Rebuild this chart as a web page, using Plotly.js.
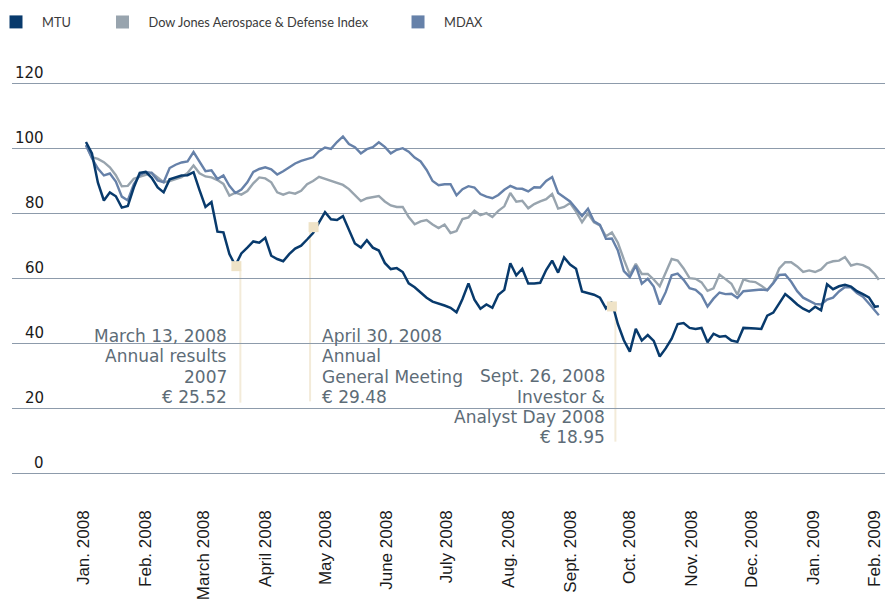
<!DOCTYPE html>
<html>
<head>
<meta charset="utf-8">
<script src="https://cdn.plot.ly/plotly-3.0.1.min.js"></script>
<style>html,body{margin:0;padding:0;background:#fff;}#chart{width:885px;height:609px;}</style>
</head>
<body>
<div id="chart"></div>
<script>
// ---- data ----
const dates = [
'2008-01-02','2008-01-05','2008-01-08','2008-01-11','2008-01-14','2008-01-17','2008-01-20','2008-01-23','2008-01-26','2008-01-29',
'2008-02-01','2008-02-04','2008-02-07','2008-02-10','2008-02-13','2008-02-16','2008-02-19','2008-02-22','2008-02-25','2008-02-28',
'2008-03-02','2008-03-05','2008-03-08','2008-03-11','2008-03-14','2008-03-17','2008-03-20','2008-03-23','2008-03-26','2008-03-29',
'2008-04-01','2008-04-04','2008-04-07','2008-04-10','2008-04-13','2008-04-16','2008-04-19','2008-04-22','2008-04-25','2008-04-28',
'2008-05-01','2008-05-04','2008-05-07','2008-05-10','2008-05-13','2008-05-16','2008-05-19','2008-05-22','2008-05-25','2008-05-28',
'2008-05-31','2008-06-03','2008-06-06','2008-06-09','2008-06-12','2008-06-15','2008-06-18','2008-06-21','2008-06-24','2008-06-27',
'2008-06-30','2008-07-03','2008-07-06','2008-07-09','2008-07-12','2008-07-15','2008-07-18','2008-07-21','2008-07-24','2008-07-27',
'2008-07-30','2008-08-02','2008-08-05','2008-08-08','2008-08-11','2008-08-14','2008-08-17','2008-08-20','2008-08-23','2008-08-26',
'2008-08-29','2008-09-01','2008-09-04','2008-09-07','2008-09-10','2008-09-13','2008-09-16','2008-09-19','2008-09-22','2008-09-25',
'2008-09-28','2008-10-01','2008-10-04','2008-10-07','2008-10-10','2008-10-13','2008-10-16','2008-10-19','2008-10-22','2008-10-25',
'2008-10-28','2008-10-31','2008-11-03','2008-11-06','2008-11-09','2008-11-12','2008-11-15','2008-11-18','2008-11-21','2008-11-24',
'2008-11-27','2008-11-30','2008-12-03','2008-12-06','2008-12-09','2008-12-12','2008-12-15','2008-12-18','2008-12-21','2008-12-24',
'2008-12-27','2008-12-30','2009-01-02','2009-01-05','2009-01-08','2009-01-11','2009-01-14','2009-01-17','2009-01-20','2009-01-23',
'2009-01-26','2009-01-29','2009-02-01','2009-02-03'
];

const mtu = [
102, 98.5, 89.5, 84, 86.5, 85.3, 81.8, 82.3, 88, 92.5,
92.8, 91, 88, 86.5, 90.5, 91.2, 91.7, 91.8, 92.7, 87.2,
82, 83.5, 74.4, 74.2, 67.5, 64, 67.7, 69.5, 71.4, 71,
72.5, 67, 66, 65.3, 67.5, 69.2, 70.1, 72, 74, 77.3,
80.4, 78.2, 78, 79.2, 75, 70.8, 69.5, 71.8, 69.5, 68.6,
64.8, 62.9, 63.2, 62, 58.5, 57.3, 55.7, 54.1, 52.9, 52.4,
51.7, 51, 49.6, 53.7, 58.5, 53.5, 50.7, 52, 51, 55,
56.5, 64.7, 61, 63, 58.5, 58.5, 58.7, 62.6, 65.5, 61.8,
66.5, 64.3, 63, 56, 55.6, 55, 54.1, 50.8, 52.7, 46,
41, 37.5, 44.5, 40.9, 42.6, 40.8, 36, 38.5, 41.5, 46,
46.3, 44.8, 44.5, 44.8, 40.4, 43, 42.1, 42.3, 40.9, 40.5,
44.8, 44.8, 44.6, 44.5, 48.6, 49.5, 52.4, 55.2, 53.7, 52,
50.7, 49.8, 51.3, 50.2, 58.2, 56.7, 57.6, 58.1, 57.5, 56.1,
55.2, 54.2, 51.3, 51.5
];

const mdax = [
101, 97, 93.8, 91.7, 92.3, 89.8, 85.2, 84, 89, 91.8,
92.8, 92.5, 90.2, 89.6, 94, 95, 95.7, 96, 98.9, 96.1,
93, 93.3, 90.6, 91.7, 88.5, 86.3, 87.4, 89.6, 92.8, 93.7,
94.2, 93.6, 92, 93, 94.3, 95.4, 96.2, 96.8, 97.3, 99.2,
100.3, 99.9, 102, 103.7, 101.4, 100.4, 98.5, 99.8, 100.4, 101.9,
100.5, 98.5, 99.6, 100.1, 99, 97.2, 96, 93.4, 90, 88.7,
89, 89, 85.6, 87.5, 88.4, 88, 86, 85.2, 84.7, 85.7,
87.3, 88.5, 87.7, 87.6, 86.8, 88.1, 88, 90, 91.2, 86.3,
84.9, 83.7, 81.5, 79.2, 81.5, 77.6, 76.5, 72.2, 72.3, 68.6,
62.3, 60.4, 64, 58.4, 59.9, 57.5, 52, 55.8, 61, 61.5,
59.6, 57, 56.5, 54.9, 51.4, 53.8, 55.7, 55.2, 55.3, 54,
56.1, 56.3, 56.3, 56.6, 56.4, 58.5, 61.1, 61.2, 59, 56.1,
54.1, 53.1, 52.2, 52, 53.5, 54.1, 56, 57.4, 57.3, 55.5,
54.4, 52.3, 50, 48.7
];

const dowJones = [
101, 97.3, 96.8, 95.8, 94.2, 91.8, 88.4, 88.5, 90.7, 91.2,
91.9, 92.5, 91, 89.6, 90, 90.6, 91.2, 92.5, 94.8, 92.4,
91.4, 91.1, 90.3, 89.1, 85.5, 86.4, 85.8, 86.9, 89.3, 91.1,
90.8, 89.6, 86.5, 85.8, 86.5, 86.1, 87, 89, 90, 91.3,
90.7, 90.2, 89.4, 88.8, 87.5, 85.5, 83.8, 84.7, 85, 85.4,
83.7, 82.5, 82, 82, 78.9, 76.7, 77.6, 78, 76.6, 75.5,
76.6, 74, 74.6, 78.3, 78.8, 80.9, 79.5, 80.1, 78.9, 80.8,
82.2, 86.3, 83.6, 83.9, 81.6, 82.9, 83.7, 84.4, 86, 81.5,
82, 83.2, 80.6, 77.3, 80, 77.3, 76.3, 73, 74.2, 71,
65.9, 61.2, 64.5, 61.4, 61.4, 59.7, 57.6, 61.8, 66, 65.5,
63.1, 60.1, 59.9, 58.8, 56.2, 57, 61.2, 59.8, 58.4, 55,
59.7, 59.1, 58.9, 57.8, 56.4, 58.7, 63.1, 65, 65, 63.7,
62, 62.5, 62, 62.8, 64.7, 65.3, 65.5, 66.6, 64, 64.5,
64.1, 63.2, 61.3, 59.6
];

const seriesNames = ['MTU', 'Dow Jones Aerospace & Defense Index', 'MDAX'];
const seriesColors = ['#083a6c', '#98a4ae', '#6681a9'];

const monthTicks = ['2008-01-01','2008-02-01','2008-03-01','2008-04-01','2008-05-01','2008-06-01','2008-07-01',
  '2008-08-01','2008-09-01','2008-10-01','2008-11-01','2008-12-01','2009-01-01','2009-02-01'];
const monthLabels = ['Jan. 2008','Feb. 2008','March 2008','April 2008','May 2008','June 2008','July 2008',
  'Aug. 2008','Sept. 2008','Oct. 2008','Nov. 2008','Dec. 2008','Jan. 2009','Feb. 2009'];

const yTicks = [0, 20, 40, 60, 80, 100, 120];

// events
const eventDates = ['2008-03-17 12:00', '2008-04-25 06:00', '2008-09-22'];
const eventValues = [63.8, 75.8, 51.4];
const eventLineDates = ['2008-03-19 12:00', '2008-04-23 12:00', '2008-09-23 18:00'];
const eventLineBottoms = [21.8, 22.2, 9.8];
const eventTextDates = ['2008-03-13 12:00', '2008-04-29', '2008-09-19'];
const eventTextAlign = ['right', 'left', 'right'];
const eventTextTop = [42.3, 42.3, 29.85];
const eventTexts = [
  ['March 13, 2008', 'Annual results', '2007', '€ 25.52'],
  ['April 30, 2008', 'Annual', 'General Meeting', '€ 29.48'],
  ['Sept. 26, 2008', 'Investor &', 'Analyst Day 2008', '€ 18.95']
];

// ---- traces ----
const traces = [];
traces.push({x: dates, y: dowJones, type: 'scatter', mode: 'lines', line: {color: seriesColors[1], width: 2.4}, showlegend: false, hoverinfo: 'skip'});
traces.push({x: dates, y: mdax, type: 'scatter', mode: 'lines', line: {color: seriesColors[2], width: 2.4}, showlegend: false, hoverinfo: 'skip'});
traces.push({x: dates, y: mtu, type: 'scatter', mode: 'lines', line: {color: seriesColors[0], width: 2.5}, showlegend: false, hoverinfo: 'skip'});
traces.push({x: eventDates, y: eventValues, type: 'scatter', mode: 'markers',
  marker: {symbol: 'square', size: 10, color: '#efe3c7'}, showlegend: false, hoverinfo: 'skip'});
// legend entries (square swatches)
const legendIds = ['legend', 'legend2', 'legend3'];
seriesNames.forEach((n, i) => {
  traces.push({x: [null], y: [null], type: 'scatter', mode: 'markers', name: n,
    marker: {symbol: 'square', size: 13, color: seriesColors[i]}, legend: legendIds[i], showlegend: true});
});

// ---- annotations ----
const annotations = [];
const lineFont = {family: 'DejaVu Sans', size: 17, color: '#5d6c77'};
const unitsPerLine = 20.3 / 3.25;
eventTexts.forEach((lines, e) => {
  lines.forEach((t, k) => {
    annotations.push({xref: 'x', yref: 'y', x: eventTextDates[e], y: eventTextTop[e] - k * unitsPerLine,
      text: t, showarrow: false, xanchor: eventTextAlign[e], yanchor: 'middle', align: eventTextAlign[e],
      font: lineFont, borderpad: 0});
  });
});
yTicks.forEach(v => {
  annotations.push({xref: 'paper', yref: 'y', x: 0.0378, y: v, text: String(v), showarrow: false,
    xanchor: 'right', yanchor: 'middle', yshift: 11, borderpad: 0,
    font: {family: 'DejaVu Sans', size: 15, color: '#1a1a1a'}});
});

const shapes = eventLineDates.map((d, e) => ({
  type: 'line', xref: 'x', yref: 'y', x0: d, x1: d, y0: eventValues[e] - 1, y1: eventLineBottoms[e],
  line: {color: '#f3ebd9', width: 2}, layer: 'below'
}));

const legendFont = {family: 'Lato, Liberation Sans', size: 12.8, color: '#3a3a3a'};
const legendBase = {orientation: 'h', yanchor: 'middle', y: 1.128, xanchor: 'left', itemwidth: 42,
  font: legendFont, bgcolor: 'rgba(0,0,0,0)', borderwidth: 0};

const layout = {
  width: 885, height: 609,
  margin: {l: 12, r: 0, t: 77, b: 103, autoexpand: false},
  paper_bgcolor: '#ffffff', plot_bgcolor: '#ffffff',
  xaxis: {type: 'date', range: ['2007-11-25 21:00', '2009-02-06 02:00'], tickmode: 'array',
    tickvals: monthTicks, ticktext: monthLabels, tickangle: -90, showgrid: false, zeroline: false,
    showline: false, ticks: '', ticklabeloverflow: 'allow',
    tickfont: {family: 'Liberation Sans', size: 17, color: '#1a1a1a'}},
  yaxis: {range: [-10, 122], tickvals: yTicks, showticklabels: false, showgrid: true,
    gridcolor: '#8d9bab', gridwidth: 1.5, zeroline: false, showline: false, ticks: ''},
  showlegend: true,
  legend: Object.assign({}, legendBase, {x: -0.0252}),
  legend2: Object.assign({}, legendBase, {x: 0.0968}),
  legend3: Object.assign({}, legendBase, {x: 0.4353}),
  annotations: annotations,
  shapes: shapes,
  hovermode: false
};

Plotly.newPlot('chart', traces, layout, {displayModeBar: false, staticPlot: true});
</script>
</body>
</html>
